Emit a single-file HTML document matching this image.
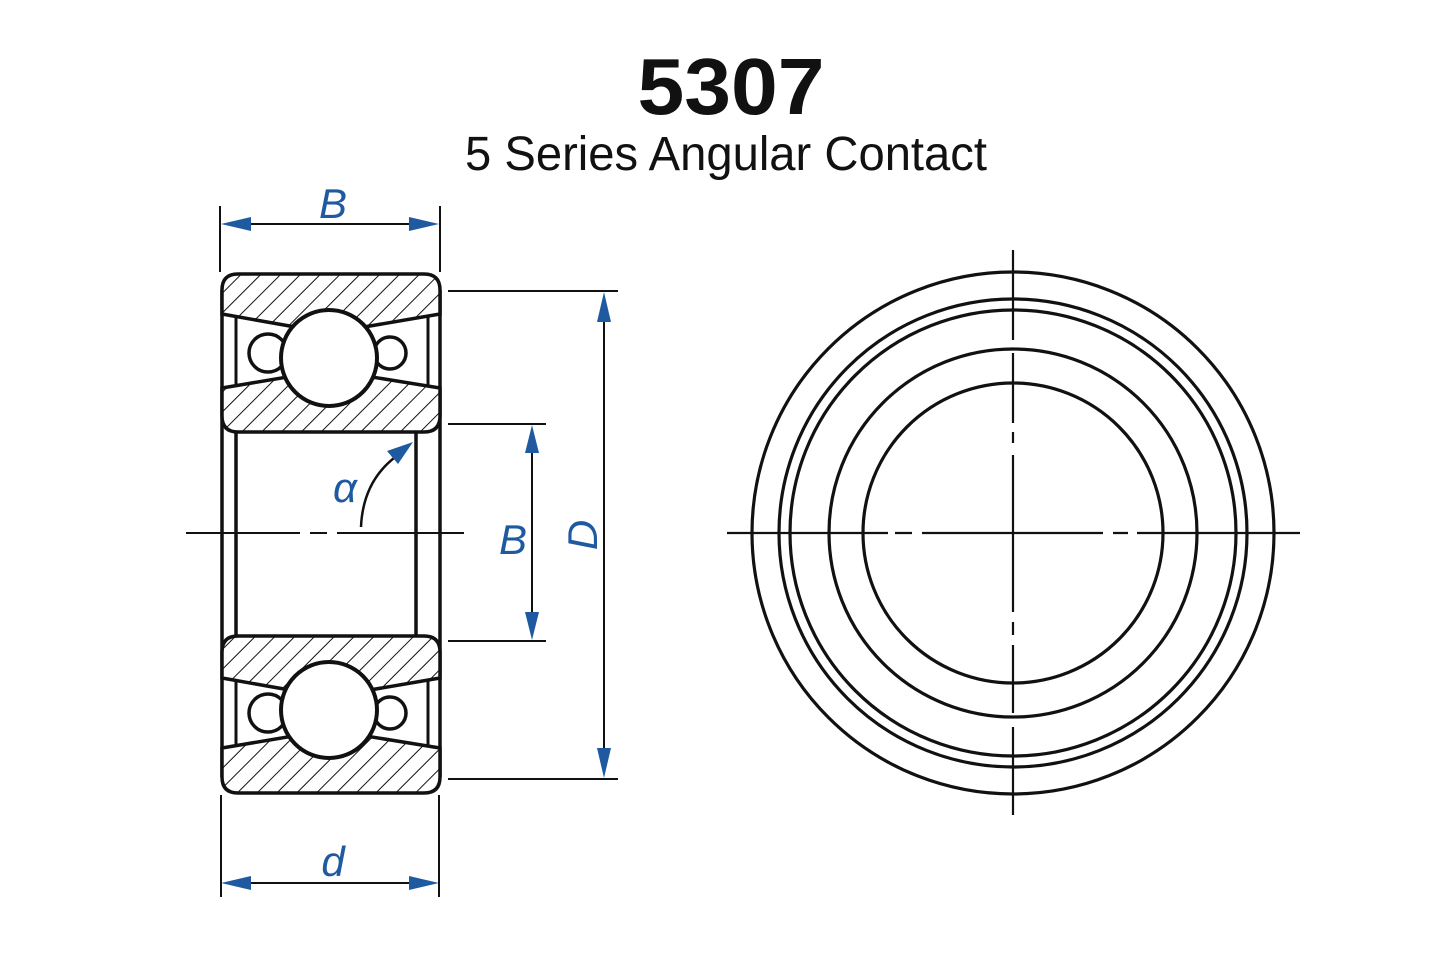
<!DOCTYPE html>
<html><head><meta charset="utf-8"><style>
html,body{margin:0;padding:0;background:#fff;}
svg{display:block;}
</style></head><body>
<svg width="1445" height="963" viewBox="0 0 1445 963" xmlns="http://www.w3.org/2000/svg">
<defs>
<pattern id="h" width="14" height="14" patternUnits="userSpaceOnUse" patternTransform="rotate(45)">
<rect width="14" height="14" fill="#fff"/>
<line x1="0" y1="0" x2="0" y2="14" stroke="#111" stroke-width="2"/>
</pattern>
</defs>
<rect width="1445" height="963" fill="#fff"/>
<text x="731" y="114" font-family="Liberation Sans, sans-serif" font-weight="bold" font-size="80" text-anchor="middle" fill="#111" textLength="187" lengthAdjust="spacingAndGlyphs">5307</text>
<text x="726" y="170" font-family="Liberation Sans, sans-serif" font-size="48" text-anchor="middle" fill="#111" textLength="522" lengthAdjust="spacingAndGlyphs">5 Series Angular Contact</text>

<g stroke="#111" fill="none" stroke-linecap="butt">
<line x1="222" y1="290" x2="222" y2="777" stroke-width="3.5"/>
<line x1="440" y1="290" x2="440" y2="777" stroke-width="3.5"/>
<line x1="236" y1="432" x2="236" y2="636" stroke-width="3.5"/>
<line x1="416" y1="432" x2="416" y2="636" stroke-width="3.5"/>
<line x1="236" y1="314" x2="236" y2="388" stroke-width="3"/>
<line x1="428" y1="314" x2="428" y2="388" stroke-width="3"/>
<line x1="236" y1="678" x2="236" y2="748" stroke-width="3"/>
<line x1="428" y1="678" x2="428" y2="748" stroke-width="3"/>
<path d="M222,290 Q222,274 238,274 L424,274 Q440,274 440,290 L440,314 L329,333 L222,314 Z" fill="url(#h)" stroke-width="3.5"/>
<path d="M222,388 L329,370 L440,388 L440,416 Q440,432 424,432 L238,432 Q222,432 222,416 Z" fill="url(#h)" stroke-width="3.5"/>
<path d="M222,652 Q222,636 238,636 L424,636 Q440,636 440,652 L440,678 L329,697 L222,678 Z" fill="url(#h)" stroke-width="3.5"/>
<path d="M222,748 L329,730 L440,748 L440,777 Q440,793 424,793 L238,793 Q222,793 222,777 Z" fill="url(#h)" stroke-width="3.5"/>
<circle cx="268" cy="353" r="19" fill="#fff" stroke-width="3.5"/>
<circle cx="390" cy="353" r="16" fill="#fff" stroke-width="3.5"/>
<circle cx="268" cy="713" r="19" fill="#fff" stroke-width="3.5"/>
<circle cx="390" cy="713" r="16" fill="#fff" stroke-width="3.5"/>
<circle cx="329" cy="358" r="48" fill="#fff" stroke-width="4"/>
<circle cx="329" cy="710" r="48" fill="#fff" stroke-width="4"/>

<path d="M186,533 H300 M310,533 H327 M337,533 H464" stroke-width="2"/>
<line x1="220" y1="206" x2="220" y2="272" stroke-width="2"/>
<line x1="440" y1="206" x2="440" y2="272" stroke-width="2"/>
<line x1="221" y1="795" x2="221" y2="897" stroke-width="2"/>
<line x1="439" y1="795" x2="439" y2="897" stroke-width="2"/>
<line x1="448" y1="291" x2="618" y2="291" stroke-width="2"/>
<line x1="448" y1="779" x2="618" y2="779" stroke-width="2"/>
<line x1="448" y1="424" x2="546" y2="424" stroke-width="2"/>
<line x1="448" y1="641" x2="546" y2="641" stroke-width="2"/>
<line x1="250" y1="224" x2="410" y2="224" stroke-width="2"/>
<line x1="250" y1="883" x2="410" y2="883" stroke-width="2"/>
<line x1="604" y1="320" x2="604" y2="750" stroke-width="2"/>
<line x1="532" y1="452" x2="532" y2="613" stroke-width="2"/>
<path d="M361,527 Q363,480 398,455" stroke-width="2.5"/>

<circle cx="1013" cy="533" r="261" stroke-width="3.2"/>
<circle cx="1013" cy="533" r="234" stroke-width="3.2"/>
<circle cx="1013" cy="533" r="223" stroke-width="3.2"/>
<circle cx="1013" cy="533" r="184" stroke-width="3.2"/>
<circle cx="1013" cy="533" r="150" stroke-width="3.2"/>
<path d="M727,533 H888 M895,533 H912 M922,533 H1103 M1113,533 H1128 M1137,533 H1300" stroke-width="2.2"/>
<path d="M1013,250 V340 M1013,353 V423 M1013,432 V443 M1013,455 V612 M1013,622 V635 M1013,645 V713 M1013,727 V815" stroke-width="2.2"/>
</g>

<g fill="#1f5aa0">
<polygon points="221,224 251,217 251,231"/>
<polygon points="439,224 409,217 409,231"/>
<polygon points="221,883 251,876 251,890"/>
<polygon points="439,883 409,876 409,890"/>
<polygon points="604,292 597,322 611,322"/>
<polygon points="604,778 597,748 611,748"/>
<polygon points="532,425 525,453 539,453"/>
<polygon points="532,640 525,612 539,612"/>
<polygon points="413,442 387,451 398,464"/>
</g>
<g font-family="Liberation Sans, sans-serif" font-style="italic" fill="#1f5aa0" font-size="42">
<text x="333" y="218" text-anchor="middle">B</text>
<text x="333" y="876" text-anchor="middle">d</text>
<text x="513" y="554" text-anchor="middle">B</text>
<text x="345" y="502" text-anchor="middle">α</text>
<text transform="translate(597,535) rotate(-90)" text-anchor="middle">D</text>
</g>
</svg>
</body></html>
